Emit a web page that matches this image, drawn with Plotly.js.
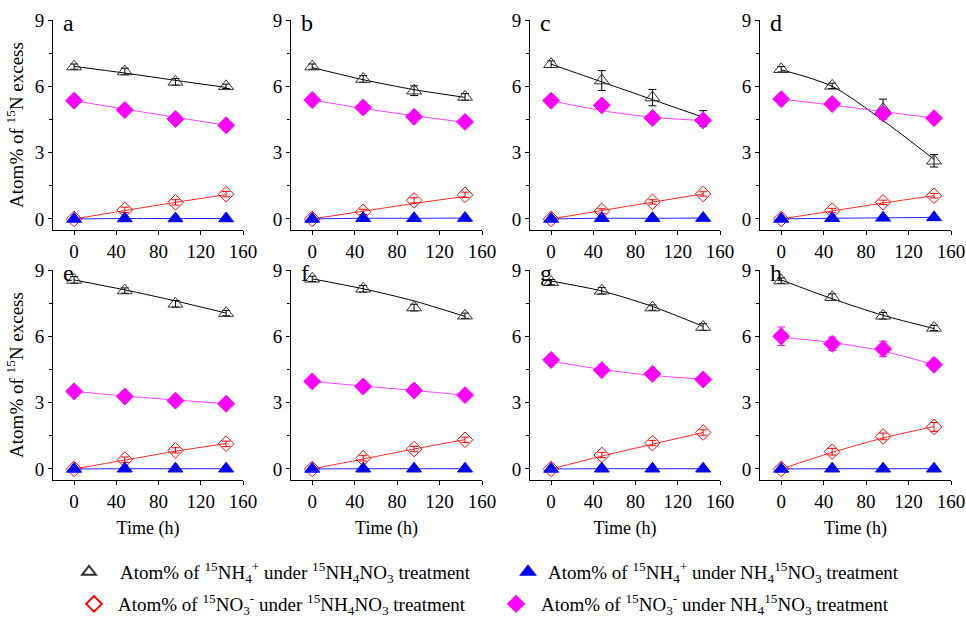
<!DOCTYPE html>
<html>
<head>
<meta charset="utf-8">
<script src="https://cdn.plot.ly/plotly-3.0.1.min.js"></script>
<style>html,body{margin:0;padding:0;background:#fff;}#chart{width:966px;height:619px;}</style>
</head>
<body>
<div id="chart"></div>
<script>
// ---- data ----
const times = [0, 48, 96, 144];
const panelLabels = ['a','b','c','d','e','f','g','h'];
const xTicks = [0, 40, 80, 120, 160];
const yTicks = [0, 3, 6, 9];

// Atom% of 15NH4+ under 15NH4NO3 treatment (open triangle)
const nh4A = [[6.89,6.67,6.20,6.00],[6.89,6.33,5.80,5.52],[7.00,6.26,5.49,4.55],[6.77,6.02,4.97,2.63],
              [8.55,8.07,7.47,7.05],[8.60,8.15,7.30,6.93],[8.45,8.06,7.30,6.42],[8.52,7.77,6.93,6.38]];
const nh4AErr = [[0.12,0.15,0.15,0.10],[0.12,0.15,0.22,0.15],[0.15,0.45,0.37,0.35],[0.12,0.12,0.45,0.28],
                 [0.15,0.12,0.15,0.12],[0.12,0.15,0.15,0.12],[0.12,0.15,0.12,0.15],[0.12,0.15,0.15,0.12]];
const nh4AFit = [[6.90,6.60,6.27,5.95],[6.85,6.30,5.85,5.50],[7.00,6.20,5.40,4.60],[6.75,6.00,4.45,2.70],
                 [8.55,8.10,7.60,7.05],[8.60,8.15,7.60,6.90],[8.50,8.05,7.35,6.45],[8.55,7.70,6.95,6.35]];

// Atom% of 15NH4+ under NH4 15NO3 treatment (filled blue triangle)
const nh4B = [[0,0.02,0.02,0.02],[0,0.03,0.03,0.04],[0,0.03,0.03,0.04],[0,0.03,0.05,0.07],
              [0,0.01,0.01,0.01],[0,0.01,0.01,0.01],[0,0.01,0.01,0.01],[0,0.01,0.01,0.01]];
const nh4BErr = [[0.04,0.05,0.05,0.05],[0.04,0.05,0.05,0.05],[0.04,0.05,0.05,0.05],[0.04,0.05,0.05,0.05],
                 [0.04,0.05,0.05,0.05],[0.04,0.05,0.05,0.05],[0.04,0.05,0.05,0.05],[0.04,0.05,0.05,0.05]];
const nh4BFit = [[0,0.02,0.02,0.02],[0,0.03,0.03,0.04],[0,0.03,0.03,0.04],[0,0.03,0.05,0.07],
                 [0,0.01,0.01,0.01],[0,0.01,0.01,0.01],[0,0.01,0.01,0.01],[0,0.01,0.01,0.01]];

// Atom% of 15NO3- under 15NH4NO3 treatment (open red diamond)
const no3A = [[0,0.41,0.75,1.12],[0,0.32,0.84,1.09],[0,0.36,0.77,1.13],[0,0.38,0.75,1.05],
              [0,0.42,0.84,1.14],[0,0.48,0.90,1.32],[0,0.63,1.17,1.65],[0,0.78,1.47,1.90]];
const no3AErr = [[0.05,0.12,0.12,0.12],[0.05,0.12,0.12,0.12],[0.05,0.10,0.10,0.10],[0.05,0.10,0.10,0.10],
                 [0.05,0.12,0.12,0.12],[0.05,0.12,0.12,0.12],[0.05,0.12,0.12,0.12],[0.05,0.15,0.15,0.20]];
const no3AFit = [[0,0.38,0.75,1.10],[0,0.35,0.70,1.02],[0,0.38,0.76,1.13],[0,0.36,0.72,1.05],
                 [0,0.40,0.80,1.15],[0,0.45,0.90,1.33],[0,0.58,1.12,1.65],[0,0.75,1.40,1.92]];

// Atom% of 15NO3- under NH4 15NO3 treatment (filled magenta diamond)
const no3B = [[5.35,4.93,4.52,4.24],[5.38,5.04,4.62,4.39],[5.35,5.14,4.57,4.46],[5.42,5.20,4.77,4.56],
              [3.51,3.28,3.09,2.95],[3.96,3.73,3.55,3.34],[4.93,4.47,4.30,4.05],[6.00,5.66,5.43,4.71]];
const no3BErr = [[0.10,0.10,0.15,0.10],[0.08,0.10,0.10,0.10],[0.08,0.15,0.10,0.12],[0.08,0.10,0.12,0.10],
                 [0.08,0.12,0.10,0.08],[0.10,0.12,0.12,0.10],[0.10,0.08,0.08,0.08],[0.42,0.30,0.35,0.22]];
const no3BFit = [[5.35,4.97,4.60,4.24],[5.38,5.00,4.67,4.37],[5.35,4.90,4.60,4.45],[5.42,5.15,4.86,4.56],
                 [3.51,3.30,3.12,2.95],[3.96,3.75,3.55,3.34],[4.88,4.50,4.23,4.06],[5.95,5.72,5.33,4.72]];

const legendNames = [
  'Atom% of <sup>15</sup>NH<sub>4</sub><sup>+</sup> under <sup>15</sup>NH<sub>4</sub>NO<sub>3</sub> treatment',
  'Atom% of <sup>15</sup>NH<sub>4</sub><sup>+</sup> under NH<sub>4</sub><sup>15</sup>NO<sub>3</sub> treatment',
  'Atom% of <sup>15</sup>NO<sub>3</sub><sup>-</sup> under <sup>15</sup>NH<sub>4</sub>NO<sub>3</sub> treatment',
  'Atom% of <sup>15</sup>NO<sub>3</sub><sup>-</sup> under NH<sub>4</sub><sup>15</sup>NO<sub>3</sub> treatment'
];

// ---- styling ----
const FONT = 'Liberation Serif, Times New Roman, serif';
const W = 966, H = 619;
const colPx = [[53,243],[291,482],[530,720],[760,951]];
const rowPx = [[20,230],[270,480]];

const series = [
  {mean: nh4A, err: nh4AErr, fit: nh4AFit, color:'#000000', mcolor:'#333333', symbol:'triangle-up-open', size:13, ecolor:'#000000', legend:'legend'},
  {mean: no3B, err: no3BErr, fit: no3BFit, color:'#ff44ff', mcolor:'#ff00ff', symbol:'diamond', size:13, ecolor:'#ff00ff', legend:'legend4'},
  {mean: no3A, err: no3AErr, fit: no3AFit, color:'#ff2a2a', mcolor:'#ff0000', symbol:'diamond-open', size:12, ecolor:'#ff0000', legend:'legend3'},
  {mean: nh4B, err: nh4BErr, fit: nh4BFit, color:'#2020ff', mcolor:'#0000ff', symbol:'triangle-up', size:13, ecolor:'#0000ff', legend:'legend2'}
];
const legendIdx = [0, 3, 2, 1];

const traces = [];
const layout = {
  width: W, height: H,
  margin: {l:0, r:0, t:0, b:0, autoexpand: false},
  paper_bgcolor: '#ffffff', plot_bgcolor: '#ffffff',
  font: {family: FONT, size: 19, color: '#000'},
  showlegend: true,
  annotations: []
};

for (let p = 0; p < 8; p++) {
  const r = Math.floor(p / 4), c = p % 4;
  const n = p + 1;
  const xa = 'xaxis' + (n === 1 ? '' : n), ya = 'yaxis' + (n === 1 ? '' : n);
  const xr = 'x' + (n === 1 ? '' : n), yr = 'y' + (n === 1 ? '' : n);
  layout[xa] = {
    domain: [colPx[c][0] / W, colPx[c][1] / W],
    anchor: yr, range: [-20, 160], tickvals: xTicks, ticktext: xTicks.map(String),
    showline: true, linecolor: '#000', linewidth: 1, ticks: 'outside', ticklen: 4, tickcolor: '#000',
    showgrid: false, zeroline: false, tickfont: {family: FONT, size: 19, color: '#000'}
  };
  if (r === 1) layout[xa].title = {text: 'Time (h)', font: {family: FONT, size: 18, color: '#000'}, standoff: 10};
  layout[ya] = {
    domain: [1 - rowPx[r][1] / H, 1 - rowPx[r][0] / H],
    anchor: xr, range: [-0.5, 9], tickvals: yTicks, ticktext: yTicks.map(String),
    showline: true, linecolor: '#000', linewidth: 1, ticks: 'outside', ticklen: 4, tickcolor: '#000',
    minor: {tickvals: [1.5, 4.5, 7.5], ticks: 'outside', ticklen: 3, tickcolor: '#000'},
    showgrid: false, zeroline: false, tickfont: {family: FONT, size: 19, color: '#000'}
  };
  if (c === 0) layout[ya].title = {text: 'Atom% of <sup>15</sup>N excess', font: {family: FONT, size: 19, color: '#000'}, standoff: 6};
  layout.annotations.push({
    text: panelLabels[p], xref: xr + ' domain', yref: yr + ' domain', x: 0.04, y: 0.985,
    xanchor: 'left', yanchor: 'middle', showarrow: false, font: {family: FONT, size: 24, color: '#000'}
  });
  series.forEach((s) => {
    traces.push({
      x: times, y: s.fit[p], xaxis: xr, yaxis: yr, mode: 'lines',
      line: {color: s.color, width: 1, shape: 'spline', smoothing: 0.8},
      showlegend: false, hoverinfo: 'skip'
    });
  });
  series.forEach((s, si) => {
    traces.push({
      x: times, y: s.mean[p], xaxis: xr, yaxis: yr, mode: 'markers',
      marker: {symbol: s.symbol, size: s.size, color: s.mcolor, line: {color: s.mcolor, width: 1}},
      error_y: {type: 'data', array: s.err[p], visible: true, color: s.ecolor, thickness: 1, width: 4},
      name: legendNames[legendIdx[si]], legend: s.legend, showlegend: p === 0
    });
  });
}

function mkLegend(xpx, ypx, iw) {
  return {
    orientation: 'h', x: xpx / W, xanchor: 'left', y: 1 - ypx / H, yanchor: 'middle',
    itemwidth: iw, font: {family: FONT, size: 19, color: '#000'},
    bgcolor: 'rgba(0,0,0,0)', itemsizing: 'constant', borderwidth: 0
  };
}
layout.legend  = mkLegend(58, 572, 52);
layout.legend2 = mkLegend(508, 572, 30);
layout.legend3 = mkLegend(70, 604, 38);
layout.legend4 = mkLegend(491, 604, 40);

Plotly.newPlot('chart', traces, layout, {staticPlot: true, displayModeBar: false});
</script>
</body>
</html>
